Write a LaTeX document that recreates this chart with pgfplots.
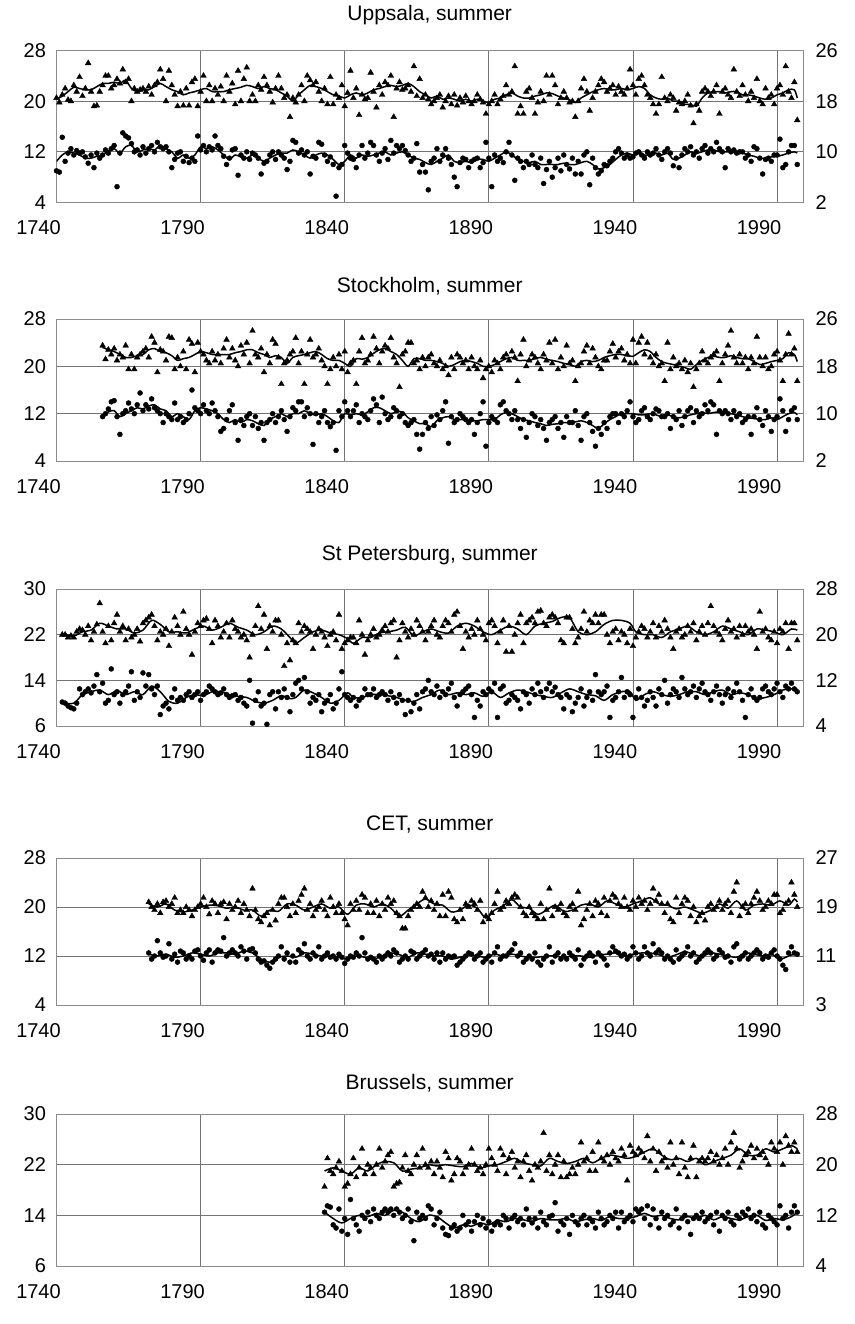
\documentclass[border=0pt]{standalone}
\usepackage{fontspec}
\setmainfont{Liberation Sans}
\usepackage{pgfplots}
\usepackage{pgfplotstable}
\pgfplotsset{compat=1.18}

\pgfplotsset{
  base/.style={anchor=north west, scale only axis, width=746.5pt,
    xmin=1740, xmax=1999,
    major tick length=0pt,
    ticklabel style={font=\fontsize{20}{22}\selectfont},
    /pgf/number format/assume math mode=true,
    /pgf/number format/1000 sep={}},
  panel/.style={base,
    xtick={1740,1790,1840,1890,1940,1990},
    xmajorgrids, ymajorgrids,
    grid style={black!55, line width=0.8pt},
    axis line style={black!45, line width=1pt},
    xticklabel style={yshift=-15pt, xshift=-18pt},
    yticklabel style={xshift=-7pt}},
  rightax/.style={base, axis x line=none, axis y line*=right,
    axis line style={draw=none},
    yticklabel style={xshift=9pt}},
  tri/.style={only marks, mark=triangle*, mark size=3.3pt, black},
  dot/.style={only marks, mark=*, mark size=2.5pt, black},
  sm/.style={smooth, black, line width=1.5pt, mark=none},
}
\newcommand{\ttl}{\fontsize{21}{24}\selectfont}

% ---------------- Uppsala ----------------
\pgfplotstableread{
yr a b
1740 20.5 9.0
1741 19.8 8.8
1742 21.0 14.3
1743 22.0 10.5
1744 20.2 11.8
1745 20.0 12.5
1746 22.5 11.5
1747 21.5 12.2
1748 23.8 11.8
1749 20.8 12.0
1750 22.0 11.2
1751 26.0 10.2
1752 21.5 11.5
1753 19.2 9.5
1754 19.3 11.8
1755 21.5 11.0
1756 22.5 11.5
1757 24.0 12.3
1758 24.0 11.8
1759 22.0 12.5
1760 22.5 13.0
1761 23.5 6.5
1762 22.8 11.8
1763 25.0 15.0
1764 23.0 14.5
1765 23.5 14.2
1766 20.0 13.3
1767 22.0 12.0
1768 21.5 12.3
1769 21.8 11.5
1770 22.0 12.8
1771 21.5 11.8
1772 22.3 12.5
1773 21.0 13.0
1774 22.5 12.0
1775 23.0 13.5
1776 25.0 12.8
1777 23.5 12.5
1778 20.0 12.8
1779 24.8 12.0
1780 22.5 9.5
1781 21.0 10.8
1782 19.2 11.8
1783 21.5 12.0
1784 19.3 10.5
1785 22.0 11.3
1786 19.3 10.3
1787 23.0 11.0
1788 23.5 10.5
1789 19.2 14.5
1790 21.5 12.3
1791 24.0 13.0
1792 20.0 12.0
1793 22.5 12.8
1794 20.0 12.3
1795 22.0 14.5
1796 21.0 13.0
1797 22.3 12.5
1798 20.0 11.3
1799 24.0 10.0
1800 21.5 11.0
1801 22.8 12.3
1802 19.5 12.5
1803 24.8 8.3
1804 20.0 11.5
1805 23.5 11.0
1806 25.3 12.0
1807 20.0 10.8
1808 21.0 11.8
1809 20.0 11.5
1810 22.5 11.0
1811 21.8 8.5
1812 23.8 10.2
1813 22.5 10.5
1814 21.5 11.5
1815 19.8 12.0
1816 22.0 10.8
1817 24.0 12.0
1818 22.0 11.5
1819 20.5 11.0
1820 21.0 9.2
1821 17.5 10.5
1822 20.5 13.8
1823 19.8 13.5
1824 21.0 11.8
1825 22.5 12.3
1826 20.0 11.5
1827 24.0 12.0
1828 23.3 8.5
1829 22.5 11.3
1830 23.0 11.0
1831 21.5 13.5
1832 20.0 13.2
1833 22.0 11.5
1834 19.5 10.5
1835 23.8 11.2
1836 19.5 10.0
1837 21.0 5.0
1838 20.5 9.5
1839 22.5 10.0
1840 19.2 13.0
1841 21.3 11.8
1842 24.8 11.0
1843 20.5 10.8
1844 22.0 9.5
1845 17.8 11.5
1846 21.0 13.0
1847 20.3 11.0
1848 20.5 11.8
1849 24.5 13.5
1850 21.5 13.0
1851 19.0 11.5
1852 22.5 10.5
1853 21.0 11.8
1854 23.0 12.5
1855 22.5 10.8
1856 24.0 13.8
1857 17.5 11.8
1858 22.0 13.0
1859 23.0 12.5
1860 21.8 13.0
1861 22.0 12.2
1862 22.5 11.5
1863 21.5 10.5
1864 25.5 11.0
1865 20.8 13.3
1866 23.5 8.8
1867 20.5 10.0
1868 21.0 8.8
1869 20.3 6.0
1870 19.5 10.5
1871 20.0 11.0
1872 20.5 12.5
1873 21.0 10.5
1874 19.0 11.5
1875 20.0 12.5
1876 20.8 11.0
1877 19.5 10.0
1878 21.0 8.0
1879 19.3 6.5
1880 20.5 10.3
1881 19.8 11.0
1882 20.8 10.8
1883 20.0 9.5
1884 19.5 10.5
1885 20.0 10.8
1886 21.0 11.0
1887 20.3 9.5
1888 19.8 10.3
1889 18.0 13.5
1890 19.5 11.0
1891 20.0 6.5
1892 21.0 11.5
1893 19.5 10.5
1894 20.3 11.0
1895 20.8 10.3
1896 22.5 12.0
1897 21.0 13.5
1898 21.5 11.5
1899 25.5 7.5
1900 18.0 11.0
1901 19.2 10.5
1902 18.0 9.5
1903 21.5 10.5
1904 22.0 10.0
1905 20.5 11.5
1906 18.0 10.0
1907 19.8 9.5
1908 21.5 11.0
1909 20.0 7.0
1910 24.0 9.2
1911 21.0 10.5
1912 24.0 8.0
1913 22.5 9.5
1914 19.5 11.0
1915 20.5 9.0
1916 21.5 11.5
1917 20.5 10.0
1918 19.8 9.3
1919 20.0 11.0
1920 17.5 8.5
1921 20.0 10.5
1922 22.0 8.5
1923 23.5 11.5
1924 21.5 12.0
1925 18.5 6.8
1926 20.5 11.0
1927 21.5 9.5
1928 22.5 8.5
1929 23.5 9.0
1930 23.0 10.0
1931 21.5 9.8
1932 22.0 10.5
1933 22.5 11.0
1934 21.0 12.0
1935 22.3 12.5
1936 21.5 11.8
1937 21.0 11.0
1938 22.0 11.5
1939 25.0 11.0
1940 22.5 11.2
1941 21.0 11.8
1942 23.5 12.0
1943 24.0 11.5
1944 22.5 11.0
1945 21.0 12.0
1946 20.5 11.5
1947 19.5 11.8
1948 18.0 12.5
1949 19.5 11.5
1950 23.8 10.8
1951 20.5 12.0
1952 20.0 12.5
1953 21.0 11.8
1954 20.5 9.8
1955 18.5 11.0
1956 19.8 9.5
1957 19.5 11.5
1958 20.0 12.5
1959 21.0 12.0
1960 19.3 12.8
1961 16.5 11.5
1962 19.5 12.0
1963 18.5 11.0
1964 21.5 12.5
1965 22.0 13.0
1966 21.5 11.8
1967 20.8 12.5
1968 21.5 12.0
1969 22.5 13.5
1970 18.0 12.5
1971 21.5 12.0
1972 22.0 9.5
1973 21.0 12.5
1974 20.5 12.0
1975 25.0 12.3
1976 21.5 11.8
1977 20.8 12.0
1978 22.5 12.0
1979 21.0 11.0
1980 20.0 11.5
1981 21.5 10.5
1982 20.5 12.8
1983 23.5 12.5
1984 20.0 11.0
1985 19.5 8.5
1986 22.0 10.8
1987 20.5 11.0
1988 21.0 10.5
1989 19.5 11.5
1990 22.0 11.5
1991 22.5 14.0
1992 21.0 9.5
1993 25.5 10.0
1994 21.5 12.0
1995 20.5 13.0
1996 23.0 13.0
1997 17.0 10.0
}\tUpp
\pgfplotstableread{
yr a b
1740 20.3 10.5
1742 20.8 11.5
1744 21.5 12.0
1746 22.2 11.8
1748 22.0 11.5
1750 21.8 11.0
1752 21.8 11.0
1754 22.3 11.3
1756 22.8 11.5
1758 22.8 12.2
1760 23.0 12.5
1762 22.8 11.8
1764 23.3 12.8
1766 22.0 13.0
1768 21.5 12.0
1770 21.8 12.3
1772 21.8 12.5
1774 22.3 12.3
1776 22.8 13.0
1778 22.3 12.5
1780 21.8 12.0
1782 21.5 11.0
1784 21.0 11.5
1786 21.3 11.0
1788 21.5 11.5
1790 21.8 12.8
1792 22.0 12.5
1794 21.5 12.8
1796 21.5 12.3
1798 21.5 11.5
1800 21.8 10.8
1802 22.0 11.5
1804 22.2 11.2
1806 22.5 11.0
1808 22.3 11.5
1810 22.0 11.0
1812 22.3 10.5
1814 22.0 11.0
1816 21.8 11.5
1818 21.3 11.8
1820 20.8 11.8
1822 20.0 12.3
1824 21.0 12.0
1826 21.8 11.5
1828 22.5 11.0
1830 22.3 11.5
1832 22.0 11.8
1834 21.5 11.5
1836 21.0 10.8
1838 20.8 10.0
1840 20.5 10.5
1842 21.0 11.5
1844 21.3 11.0
1846 21.0 11.5
1848 21.3 11.3
1850 21.8 11.5
1852 22.0 11.8
1854 22.3 12.0
1856 22.5 11.5
1858 22.3 11.8
1860 22.5 12.0
1862 22.8 11.5
1864 22.3 11.0
1866 21.5 10.8
1868 21.0 10.3
1870 20.5 10.0
1872 20.8 10.5
1874 20.3 11.0
1876 20.5 11.5
1878 20.3 10.5
1880 20.0 10.3
1882 20.3 10.5
1884 20.0 10.3
1886 20.3 10.8
1888 20.0 10.8
1890 19.8 10.5
1892 20.3 11.0
1894 20.5 11.5
1896 21.0 12.0
1898 21.3 11.5
1900 20.8 10.8
1902 20.5 10.5
1904 20.5 10.3
1906 20.8 10.5
1908 21.0 10.0
1910 21.3 10.0
1912 21.2 10.0
1914 20.8 10.0
1916 20.5 10.2
1918 20.2 10.0
1920 19.8 10.0
1922 20.5 10.3
1924 21.0 10.5
1926 21.5 10.0
1928 21.8 9.3
1930 22.0 9.5
1932 21.8 10.0
1934 21.8 10.8
1936 22.0 11.5
1938 21.8 11.8
1940 22.0 11.5
1942 22.3 11.8
1944 22.0 11.5
1946 21.0 11.5
1948 20.5 11.8
1950 20.3 11.5
1952 20.5 11.8
1954 20.0 10.8
1956 20.0 11.0
1958 19.5 11.5
1960 19.5 12.0
1962 19.2 11.8
1964 20.5 12.0
1966 21.3 12.3
1968 21.5 12.3
1970 21.5 12.0
1972 21.3 12.0
1974 21.5 12.0
1976 21.5 11.8
1978 21.0 11.8
1980 21.0 11.5
1982 20.8 11.3
1984 20.5 11.0
1986 20.3 11.0
1988 20.5 11.2
1990 21.0 11.3
1992 21.3 11.5
1994 21.8 11.8
1996 21.8 12.0
1997 20.5 11.8
}\sUpp

% ---------------- Stockholm ----------------
\pgfplotstableread{
yr a b
1756 23.5 11.5
1757 21.2 12.0
1758 22.8 12.8
1759 22.0 14.0
1760 23.0 14.2
1761 21.0 11.5
1762 22.0 8.5
1763 21.5 12.0
1764 23.5 12.5
1765 19.5 13.8
1766 22.0 12.8
1767 19.5 12.0
1768 21.5 13.5
1769 22.0 15.5
1770 22.5 12.5
1771 23.0 13.5
1772 21.5 12.8
1773 25.0 14.5
1774 24.0 13.0
1775 19.0 12.5
1776 22.8 12.0
1777 22.5 10.5
1778 21.0 12.0
1779 25.0 11.5
1780 24.8 11.0
1781 19.5 13.8
1782 21.5 11.0
1783 20.0 11.5
1784 22.5 10.5
1785 19.5 11.0
1786 24.5 12.0
1787 23.8 16.0
1788 19.0 13.0
1789 24.0 12.5
1790 22.5 12.0
1791 22.0 13.5
1792 21.0 12.5
1793 20.5 12.0
1794 22.5 13.8
1795 21.0 12.5
1796 22.0 11.5
1797 20.5 9.0
1798 23.0 9.5
1799 24.5 11.0
1800 21.5 12.5
1801 23.0 13.5
1802 21.0 10.5
1803 20.0 7.5
1804 23.5 11.0
1805 22.0 10.0
1806 24.0 11.5
1807 20.5 12.0
1808 26.0 10.0
1809 22.0 11.5
1810 21.5 9.5
1811 23.0 10.5
1812 19.0 7.5
1813 22.0 10.5
1814 20.5 11.0
1815 24.5 12.0
1816 23.8 10.5
1817 21.5 11.5
1818 17.0 12.5
1819 20.5 11.0
1820 21.0 9.0
1821 22.0 11.5
1822 22.5 13.0
1823 24.8 12.5
1824 20.5 14.0
1825 22.5 14.0
1826 17.0 11.5
1827 22.0 13.0
1828 24.5 12.0
1829 21.5 6.8
1830 22.0 12.0
1831 23.0 10.5
1832 21.0 11.5
1833 20.0 12.5
1834 17.0 10.5
1835 19.5 9.8
1836 21.5 10.5
1837 20.0 5.8
1838 22.0 12.5
1839 19.5 11.5
1840 22.5 14.0
1841 19.0 12.5
1842 20.5 11.5
1843 21.0 12.5
1844 17.0 13.5
1845 22.5 10.5
1846 24.8 12.0
1847 20.5 11.5
1848 21.0 11.0
1849 22.0 12.5
1850 25.0 14.5
1851 23.0 13.5
1852 20.5 10.5
1853 22.5 14.8
1854 23.5 12.0
1855 23.0 11.0
1856 24.8 11.5
1857 21.5 13.0
1858 20.5 12.5
1859 16.5 11.5
1860 22.0 12.0
1861 22.5 10.5
1862 24.0 10.0
1863 24.0 10.5
1864 20.5 11.0
1865 21.0 8.5
1866 19.5 6.0
1867 21.5 8.5
1868 20.0 10.5
1869 21.5 9.5
1870 22.0 11.5
1871 20.5 10.0
1872 20.0 11.8
1873 21.0 11.0
1874 19.5 12.5
1875 20.0 14.0
1876 18.5 7.0
1877 21.5 11.5
1878 19.5 10.5
1879 22.0 11.0
1880 21.5 12.0
1881 20.5 11.5
1882 21.0 11.0
1883 19.5 10.5
1884 21.5 11.0
1885 20.0 8.5
1886 19.5 10.5
1887 21.0 12.0
1888 18.0 14.0
1889 19.5 6.5
1890 20.0 10.5
1891 19.0 11.5
1892 21.0 11.0
1893 20.5 10.5
1894 19.5 13.5
1895 21.5 14.0
1896 22.0 12.5
1897 21.0 12.0
1898 22.5 11.0
1899 21.5 12.5
1900 17.5 11.0
1901 22.0 9.5
1902 24.5 11.0
1903 20.0 8.0
1904 21.0 10.5
1905 22.0 12.0
1906 21.5 11.5
1907 20.5 10.0
1908 19.5 11.0
1909 22.0 9.5
1910 21.0 7.5
1911 24.0 10.5
1912 20.5 11.0
1913 24.5 11.5
1914 19.5 9.5
1915 21.5 10.5
1916 20.0 8.0
1917 23.5 11.5
1918 20.5 10.5
1919 21.0 10.5
1920 17.5 12.5
1921 20.0 10.0
1922 20.5 7.5
1923 22.5 11.5
1924 23.5 12.0
1925 20.5 10.5
1926 23.0 9.0
1927 21.5 6.5
1928 20.0 9.5
1929 19.5 8.5
1930 21.0 10.5
1931 21.0 9.5
1932 22.5 11.5
1933 23.8 12.0
1934 21.5 12.0
1935 22.5 10.5
1936 23.0 12.0
1937 21.0 11.5
1938 22.0 12.5
1939 20.5 14.0
1940 24.5 11.5
1941 20.5 10.5
1942 24.0 11.0
1943 25.0 12.5
1944 22.0 13.0
1945 24.0 11.5
1946 21.5 11.0
1947 20.5 12.0
1948 22.0 12.8
1949 20.0 12.5
1950 20.5 11.5
1951 17.5 11.5
1952 24.0 12.0
1953 19.5 9.5
1954 21.5 11.5
1955 20.0 11.0
1956 20.5 12.5
1957 19.5 10.0
1958 21.0 11.5
1959 19.0 12.5
1960 20.5 13.0
1961 16.5 10.5
1962 19.5 12.5
1963 20.5 11.5
1964 22.5 12.0
1965 21.0 13.5
1966 20.5 12.5
1967 21.5 14.0
1968 22.0 13.5
1969 22.5 8.5
1970 17.5 12.5
1971 20.5 12.0
1972 22.0 12.5
1973 23.5 12.0
1974 26.0 11.0
1975 21.5 12.5
1976 20.5 11.5
1977 22.0 12.0
1978 20.5 10.5
1979 21.5 11.0
1980 19.5 11.5
1981 21.5 8.5
1982 20.5 11.5
1983 25.0 13.0
1984 21.5 11.0
1985 20.0 10.0
1986 21.5 12.5
1987 19.5 11.5
1988 20.0 9.0
1989 22.0 11.0
1990 22.5 11.5
1991 21.0 14.5
1992 17.5 12.5
1993 22.0 9.0
1994 25.5 11.0
1995 22.0 12.5
1996 23.0 13.0
1997 17.5 11.0
}\tSto
\pgfplotstableread{
yr a b
1756 23.2 11.5
1758 22.8 12.3
1760 22.5 12.5
1762 22.0 11.5
1764 21.5 12.0
1766 21.5 12.5
1768 21.8 13.0
1770 22.0 12.8
1772 22.8 13.3
1774 23.0 13.5
1776 22.5 12.8
1778 22.3 12.5
1780 21.8 11.5
1782 21.0 12.0
1784 21.3 11.5
1786 21.5 11.0
1788 22.0 12.5
1790 22.5 13.0
1792 22.3 12.8
1794 22.0 12.5
1796 22.0 12.0
1798 22.0 11.0
1800 22.0 10.5
1802 22.3 11.0
1804 22.5 10.5
1806 22.8 11.0
1808 22.8 10.8
1810 22.3 10.3
1812 22.0 10.0
1814 21.5 11.0
1816 21.8 11.5
1818 21.5 12.0
1820 20.5 11.5
1822 21.5 12.0
1824 21.8 12.0
1826 22.0 12.5
1828 22.3 12.0
1830 22.5 11.8
1832 22.0 12.0
1834 21.3 11.5
1836 21.0 10.8
1838 21.0 10.5
1840 20.5 12.0
1842 20.0 11.8
1844 21.3 12.0
1846 21.2 11.8
1848 21.5 12.3
1850 22.2 13.0
1852 22.8 13.0
1854 23.0 12.5
1856 22.5 12.0
1858 22.0 12.3
1860 21.0 12.3
1862 20.0 11.3
1864 21.3 10.8
1866 21.3 10.3
1868 21.0 10.3
1870 21.0 9.8
1872 20.8 10.8
1874 20.5 11.3
1876 20.0 11.5
1878 20.3 11.0
1880 20.8 11.0
1882 21.0 11.0
1884 20.8 10.8
1886 20.5 10.8
1888 20.0 11.0
1890 20.0 11.0
1892 20.3 11.0
1894 20.8 11.8
1896 21.3 12.2
1898 21.5 12.0
1900 21.0 11.5
1902 21.0 11.0
1904 21.0 10.8
1906 21.3 10.5
1908 21.5 10.3
1910 21.2 10.0
1912 21.0 10.2
1914 20.8 10.3
1916 20.5 10.5
1918 20.3 10.5
1920 20.0 10.6
1922 20.8 10.8
1924 21.0 10.5
1926 20.8 10.0
1928 21.0 9.5
1930 21.5 10.3
1932 21.8 11.0
1934 22.0 11.5
1936 22.0 12.0
1938 21.8 12.0
1940 21.7 12.0
1942 22.3 11.8
1944 22.8 11.8
1946 22.5 12.0
1948 21.5 11.8
1950 20.8 11.5
1952 20.5 11.8
1954 20.3 11.5
1956 20.0 11.3
1958 19.8 11.5
1960 19.5 11.8
1962 20.3 12.0
1964 21.0 12.2
1966 21.5 12.0
1968 21.7 12.2
1970 21.5 12.3
1972 21.5 12.2
1974 21.8 12.0
1976 21.5 11.8
1978 21.3 11.5
1980 21.3 11.3
1982 20.8 11.2
1984 20.3 11.0
1986 20.5 11.0
1988 20.8 11.3
1990 21.0 11.0
1992 21.3 11.5
1994 22.3 12.0
1996 22.0 12.2
1997 20.8 11.8
}\sSto

% ---------------- St Petersburg ----------------
\pgfplotstableread{
yr a b
1742 22.0 10.2
1743 22.0 10.0
1744 21.5 9.5
1745 21.8 9.2
1746 21.5 9.0
1747 22.5 10.0
1748 23.0 12.5
1749 22.8 11.5
1750 22.0 12.0
1751 23.5 12.5
1752 21.0 11.8
1753 22.5 13.0
1754 23.8 15.0
1755 27.5 12.0
1756 22.5 13.5
1757 20.5 10.0
1758 23.5 10.5
1759 21.0 16.0
1760 24.0 11.5
1761 25.5 12.0
1762 22.5 10.0
1763 23.5 11.5
1764 21.0 12.0
1765 23.0 13.0
1766 21.5 15.5
1767 22.0 10.5
1768 23.0 12.0
1769 20.8 11.0
1770 24.0 15.3
1771 24.5 13.0
1772 25.0 15.0
1773 25.5 12.5
1774 23.5 11.5
1775 21.0 13.0
1776 22.5 8.0
1777 22.0 9.5
1778 23.0 10.0
1779 20.0 9.0
1780 22.5 11.0
1781 25.0 12.5
1782 23.5 10.5
1783 22.0 11.0
1784 26.0 10.5
1785 23.0 11.5
1786 22.0 12.0
1787 18.5 11.0
1788 22.5 11.5
1789 24.0 12.0
1790 23.5 10.5
1791 24.5 11.5
1792 24.8 12.0
1793 23.0 13.0
1794 20.5 12.5
1795 24.5 12.0
1796 23.5 11.5
1797 21.5 11.8
1798 22.5 12.5
1799 24.0 11.5
1800 21.5 11.0
1801 24.5 11.3
1802 23.0 11.5
1803 22.5 10.5
1804 21.5 11.0
1805 22.0 10.0
1806 21.0 9.5
1807 18.0 14.0
1808 22.0 6.5
1809 23.5 10.5
1810 27.0 12.0
1811 23.0 9.5
1812 25.5 10.0
1813 19.5 6.3
1814 23.5 11.5
1815 22.5 12.0
1816 24.5 9.0
1817 24.5 12.0
1818 22.0 11.0
1819 16.5 12.5
1820 20.5 11.0
1821 17.5 8.5
1822 21.0 11.5
1823 20.5 13.5
1824 24.0 14.0
1825 22.5 12.5
1826 23.5 14.5
1827 23.0 12.0
1828 22.5 10.0
1829 19.5 11.0
1830 22.0 10.5
1831 23.0 11.5
1832 22.5 8.5
1833 21.5 10.0
1834 20.0 10.5
1835 22.0 11.5
1836 22.5 9.0
1837 21.0 10.0
1838 25.5 12.5
1839 19.5 15.5
1840 20.5 11.5
1841 21.0 11.0
1842 21.5 10.5
1843 21.5 11.0
1844 20.5 9.5
1845 24.5 10.5
1846 22.0 11.0
1847 18.5 12.5
1848 21.0 11.5
1849 22.0 11.5
1850 23.0 12.5
1851 21.5 11.0
1852 22.0 11.5
1853 22.8 12.0
1854 23.5 11.5
1855 22.5 10.5
1856 24.0 12.0
1857 24.5 11.0
1858 18.0 10.0
1859 21.0 11.5
1860 24.0 10.5
1861 22.5 8.0
1862 21.5 10.5
1863 23.0 8.5
1864 22.0 10.0
1865 24.5 11.5
1866 23.5 9.0
1867 22.5 12.0
1868 21.0 12.5
1869 22.5 14.0
1870 23.5 12.0
1871 24.5 11.5
1872 22.0 13.0
1873 21.5 11.0
1874 23.5 12.0
1875 24.5 11.5
1876 24.0 12.5
1877 22.5 13.5
1878 25.5 11.0
1879 26.0 9.5
1880 23.5 11.5
1881 19.5 12.0
1882 22.5 12.5
1883 21.5 13.0
1884 23.0 11.5
1885 22.0 7.5
1886 24.5 10.5
1887 23.0 9.5
1888 22.0 12.0
1889 21.0 11.5
1890 24.0 12.5
1891 24.5 12.0
1892 23.5 13.5
1893 20.5 7.5
1894 22.5 12.5
1895 24.5 13.0
1896 19.0 10.0
1897 23.5 10.5
1898 19.0 11.5
1899 22.0 11.0
1900 24.0 10.5
1901 25.5 9.0
1902 20.5 12.0
1903 24.0 11.5
1904 24.5 10.0
1905 25.0 12.5
1906 24.0 11.5
1907 26.0 13.5
1908 26.2 12.0
1909 24.0 11.0
1910 23.5 12.5
1911 25.0 13.5
1912 25.5 12.0
1913 25.0 12.8
1914 24.0 11.5
1915 21.0 11.0
1916 20.5 9.0
1917 25.0 11.5
1918 25.0 11.0
1919 23.0 8.5
1920 20.5 10.0
1921 21.5 11.0
1922 23.0 12.5
1923 26.0 9.5
1924 22.5 11.0
1925 24.5 12.0
1926 24.0 10.5
1927 25.5 15.0
1928 24.0 12.0
1929 25.5 11.5
1930 25.5 12.0
1931 22.0 13.0
1932 20.5 7.5
1933 22.5 10.5
1934 23.0 11.0
1935 21.0 12.0
1936 22.5 14.5
1937 22.0 11.0
1938 20.5 12.0
1939 23.0 11.5
1940 20.0 7.5
1941 21.5 11.0
1942 22.5 12.5
1943 23.5 11.0
1944 23.0 9.5
1945 21.5 10.5
1946 22.5 12.0
1947 24.0 11.0
1948 21.5 9.5
1949 23.5 12.5
1950 22.5 11.5
1951 24.5 14.0
1952 23.0 10.0
1953 21.5 11.5
1954 19.5 12.5
1955 22.5 12.0
1956 23.0 11.0
1957 21.5 14.5
1958 22.0 12.5
1959 23.5 11.5
1960 22.5 12.0
1961 24.0 13.0
1962 21.0 11.0
1963 22.5 12.5
1964 23.5 13.5
1965 22.0 12.0
1966 24.0 11.5
1967 27.0 10.5
1968 23.5 12.0
1969 22.5 13.0
1970 22.0 11.5
1971 21.0 10.0
1972 23.0 11.5
1973 24.5 12.5
1974 22.5 11.0
1975 23.0 12.0
1976 21.5 13.5
1977 23.5 12.0
1978 22.0 10.5
1979 23.5 7.5
1980 22.5 11.5
1981 23.0 12.5
1982 22.0 11.0
1983 19.5 10.5
1984 26.0 11.0
1985 22.5 12.5
1986 23.0 13.0
1987 21.5 12.0
1988 21.0 11.5
1989 22.5 12.5
1990 20.5 13.5
1991 23.0 12.0
1992 22.5 11.0
1993 24.0 13.0
1994 19.5 12.5
1995 24.0 13.5
1996 24.0 12.5
1997 21.0 12.0
}\tStp
\pgfplotstableread{
yr a b
1742 22.0 10.0
1746 21.8 10.0
1749 22.5 11.5
1752 22.8 12.0
1755 24.0 12.3
1758 23.5 11.5
1761 23.0 12.2
1764 23.0 11.5
1767 22.3 12.0
1770 22.8 11.5
1773 24.5 13.0
1776 23.8 12.0
1779 22.5 10.3
1782 22.5 10.0
1785 22.3 11.0
1788 23.0 11.5
1791 23.5 11.3
1794 22.8 12.0
1797 23.3 12.0
1800 24.0 11.5
1803 23.3 11.2
1806 22.8 11.0
1809 22.0 10.3
1812 22.5 10.0
1815 23.5 10.5
1818 23.0 11.3
1821 21.5 10.8
1823 20.5 11.0
1826 21.5 12.3
1829 22.5 11.8
1832 22.8 11.0
1835 22.3 10.0
1838 22.0 10.5
1841 21.3 11.8
1843 20.5 11.0
1846 21.5 11.0
1849 21.5 11.5
1852 22.3 11.5
1855 22.5 11.3
1858 22.8 11.0
1861 23.3 10.5
1864 21.8 10.3
1867 22.5 11.0
1870 23.0 11.5
1873 22.5 12.3
1876 22.3 11.5
1879 23.5 11.8
1882 24.0 11.5
1885 23.5 11.8
1888 22.5 11.2
1891 22.0 12.0
1894 22.8 11.0
1897 23.5 11.8
1900 23.0 12.3
1903 22.0 12.0
1906 23.5 11.5
1909 24.0 11.2
1912 24.3 11.0
1915 25.0 11.8
1918 25.0 12.5
1921 22.5 12.0
1924 22.0 11.5
1927 22.5 11.3
1930 23.8 10.5
1933 24.5 11.5
1936 24.5 12.0
1939 24.0 12.0
1941 22.5 10.5
1944 22.0 11.5
1947 22.0 12.0
1950 21.5 11.5
1953 22.5 11.2
1956 23.0 11.5
1959 23.5 12.0
1962 22.5 12.0
1965 22.0 11.5
1968 22.5 12.0
1971 23.5 12.3
1974 23.0 11.5
1977 22.5 11.8
1980 22.0 11.5
1983 23.0 10.8
1986 22.8 11.0
1989 22.5 11.5
1992 22.0 12.3
1995 23.0 12.5
1997 22.8 12.5
}\sStp

% ---------------- CET ----------------
\pgfplotstableread{
yr a b
1772 20.8 12.5
1773 20.0 11.5
1774 19.5 12.0
1775 20.5 14.5
1776 19.0 12.5
1777 20.8 11.8
1778 21.0 12.0
1779 20.0 14.0
1780 20.5 11.5
1781 21.5 12.3
1782 19.0 11.0
1783 19.5 12.8
1784 19.0 12.5
1785 20.0 11.5
1786 19.5 12.0
1787 18.5 11.5
1788 19.5 12.8
1789 20.0 13.0
1790 20.5 12.0
1791 21.5 11.3
1792 20.0 12.5
1793 18.8 13.0
1794 21.0 11.0
1795 20.5 12.5
1796 19.0 13.0
1797 20.5 12.8
1798 20.8 15.0
1799 18.0 12.0
1800 20.5 12.5
1801 19.5 13.0
1802 20.0 12.5
1803 21.0 12.0
1804 19.0 13.5
1805 20.5 12.8
1806 19.5 11.5
1807 18.5 13.0
1808 23.0 13.2
1809 19.5 12.5
1810 18.0 11.5
1811 17.5 11.0
1812 18.5 11.2
1813 19.0 10.5
1814 17.0 10.0
1815 19.5 11.0
1816 17.8 11.5
1817 20.5 12.0
1818 21.5 13.5
1819 21.5 11.5
1820 20.0 12.5
1821 18.5 11.0
1822 20.5 12.0
1823 19.0 11.0
1824 21.0 13.0
1825 22.0 12.5
1826 23.0 14.0
1827 19.5 12.0
1828 20.5 11.5
1829 18.5 12.5
1830 19.5 12.0
1831 20.0 13.5
1832 21.0 11.5
1833 19.5 12.0
1834 18.5 12.5
1835 21.5 11.8
1836 20.0 12.0
1837 19.0 11.5
1838 20.5 12.3
1839 19.0 11.8
1840 18.0 10.8
1841 17.0 11.5
1842 20.5 12.0
1843 19.5 11.8
1844 21.0 12.5
1845 19.5 12.0
1846 22.0 15.0
1847 21.5 12.5
1848 19.0 11.5
1849 20.5 11.8
1850 19.0 11.5
1851 21.0 11.0
1852 18.5 12.0
1853 20.5 11.5
1854 19.5 12.0
1855 21.5 12.5
1856 20.5 12.0
1857 21.0 13.0
1858 19.0 12.5
1859 18.5 11.0
1860 16.5 11.5
1861 16.5 12.0
1862 18.5 11.5
1863 19.5 12.8
1864 20.0 12.5
1865 20.5 11.5
1866 20.0 12.0
1867 22.5 12.5
1868 21.5 13.0
1869 20.0 12.0
1870 21.0 12.3
1871 19.5 11.5
1872 20.5 12.5
1873 18.5 11.0
1874 22.0 12.5
1875 18.5 11.5
1876 22.5 12.0
1877 21.5 11.8
1878 18.0 12.0
1879 17.5 10.5
1880 19.5 11.0
1881 18.0 11.5
1882 20.5 12.0
1883 20.0 12.5
1884 21.0 12.3
1885 20.5 11.5
1886 19.5 12.0
1887 21.0 12.5
1888 17.5 11.0
1889 18.5 11.5
1890 18.0 12.0
1891 19.0 11.0
1892 20.5 12.5
1893 22.5 13.5
1894 19.5 11.5
1895 20.0 12.0
1896 21.0 12.0
1897 20.5 12.5
1898 21.5 13.0
1899 22.0 14.0
1900 21.5 12.0
1901 20.0 12.5
1902 19.0 11.0
1903 18.5 11.5
1904 20.0 12.0
1905 19.0 11.5
1906 18.5 12.5
1907 18.0 11.0
1908 20.5 10.5
1909 18.0 11.5
1910 19.5 12.0
1911 23.0 13.5
1912 18.5 11.0
1913 20.0 12.0
1914 19.5 12.5
1915 20.5 11.5
1916 19.0 12.0
1917 18.5 11.5
1918 20.0 12.5
1919 20.5 12.0
1920 19.5 11.5
1921 22.5 13.0
1922 17.0 10.5
1923 18.0 11.5
1924 19.5 12.0
1925 20.5 12.5
1926 18.5 12.0
1927 21.0 11.0
1928 20.5 12.5
1929 19.0 12.0
1930 21.5 11.5
1931 18.5 10.5
1932 21.0 12.5
1933 22.0 13.5
1934 21.5 12.8
1935 20.5 12.5
1936 20.0 12.0
1937 21.5 12.3
1938 20.0 11.5
1939 19.5 12.0
1940 21.0 13.5
1941 20.0 12.5
1942 21.5 11.5
1943 20.5 12.0
1944 21.0 13.5
1945 19.5 12.5
1946 20.5 12.0
1947 23.0 14.0
1948 21.0 12.5
1949 22.0 13.0
1950 20.5 12.5
1951 19.0 11.5
1952 20.5 12.0
1953 18.0 11.5
1954 17.5 11.0
1955 21.5 13.0
1956 19.0 11.5
1957 20.5 12.0
1958 21.5 12.5
1959 21.0 13.5
1960 18.5 12.0
1961 20.0 12.5
1962 17.5 11.0
1963 18.5 11.5
1964 19.0 12.0
1965 17.8 12.5
1966 20.0 13.0
1967 20.5 12.5
1968 19.5 11.5
1969 20.0 12.0
1970 21.0 13.0
1971 19.5 12.5
1972 20.5 11.8
1973 21.0 12.0
1974 19.0 11.0
1975 22.5 13.5
1976 24.0 14.0
1977 18.5 11.5
1978 20.0 12.0
1979 20.5 12.5
1980 19.0 11.5
1981 20.5 12.0
1982 21.5 12.5
1983 22.5 13.0
1984 21.0 12.5
1985 19.5 11.5
1986 20.0 12.0
1987 21.0 11.8
1988 20.5 12.5
1989 22.0 13.0
1990 22.0 12.0
1991 19.0 11.5
1992 19.5 10.5
1993 20.5 9.8
1994 21.0 12.5
1995 24.0 13.5
1996 22.0 12.5
1997 20.0 12.3
}\tCet
\pgfplotstableread{
yr a b
1772 20.5 12.3
1775 20.0 12.0
1778 20.5 12.3
1781 19.5 11.8
1784 19.2 12.0
1787 19.5 12.5
1790 20.0 12.3
1793 20.3 12.0
1796 20.2 12.5
1799 19.8 12.5
1802 20.0 12.3
1805 19.5 12.8
1808 19.5 12.5
1811 18.5 11.5
1814 19.5 11.0
1817 19.3 11.8
1820 20.5 12.0
1823 20.3 11.8
1826 19.5 12.5
1829 20.0 12.3
1832 20.5 12.0
1835 19.8 12.0
1838 20.0 11.8
1841 18.8 11.5
1844 20.3 12.0
1847 20.5 11.8
1850 20.0 11.5
1853 20.5 12.0
1856 19.8 12.5
1859 18.5 12.2
1862 19.5 11.8
1865 20.5 12.5
1868 21.3 12.3
1871 20.5 12.0
1874 20.3 12.0
1877 19.2 11.5
1880 19.5 11.8
1883 20.3 12.2
1886 19.8 12.0
1889 18.2 11.8
1892 19.5 12.3
1895 20.2 12.0
1898 21.2 12.3
1901 20.0 12.0
1904 19.8 11.8
1907 18.8 11.8
1910 19.5 12.0
1913 20.3 12.0
1916 19.3 11.8
1919 19.5 12.0
1922 20.3 12.0
1925 20.5 11.8
1928 20.0 12.2
1931 21.0 12.3
1934 20.5 12.5
1937 20.0 12.0
1940 20.5 12.3
1943 21.0 12.5
1946 21.5 12.5
1949 20.5 12.2
1952 20.3 11.8
1955 19.7 12.2
1958 20.0 12.7
1961 19.5 12.3
1964 19.0 12.0
1967 19.5 12.5
1970 20.5 12.3
1973 19.8 12.0
1976 21.0 11.8
1979 19.5 12.5
1982 20.3 12.3
1985 20.5 12.0
1988 20.3 12.3
1991 21.0 11.5
1994 20.3 12.0
1996 21.3 12.3
1997 20.8 12.3
}\sCet

% ---------------- Brussels ----------------
\pgfplotstableread{
yr a b
1833 18.5 14.5
1834 23.0 15.5
1835 21.0 15.3
1836 20.5 12.5
1837 21.5 12.0
1838 22.5 15.0
1839 21.0 11.5
1840 18.5 13.5
1841 19.0 11.0
1842 20.5 16.5
1843 23.0 13.5
1844 20.0 12.5
1845 21.5 11.5
1846 24.5 14.0
1847 20.5 13.5
1848 22.0 14.5
1849 21.5 13.0
1850 20.5 15.0
1851 22.0 14.0
1852 24.5 13.5
1853 21.5 14.5
1854 22.5 15.0
1855 23.5 14.5
1856 24.0 15.0
1857 18.5 14.0
1858 19.0 15.0
1859 19.2 14.5
1860 21.5 13.5
1861 23.5 14.0
1862 21.0 15.0
1863 20.5 13.0
1864 22.0 10.0
1865 23.5 14.5
1866 21.5 13.5
1867 24.5 14.0
1868 22.0 13.5
1869 21.5 15.5
1870 22.5 15.0
1871 20.5 12.5
1872 22.5 13.5
1873 21.5 14.5
1874 20.0 12.0
1875 24.0 11.0
1876 23.0 10.8
1877 19.5 12.0
1878 20.5 12.5
1879 23.0 11.5
1880 22.5 12.0
1881 20.5 14.0
1882 21.5 12.5
1883 22.0 13.0
1884 24.5 11.5
1885 22.0 13.0
1886 21.0 14.0
1887 21.5 12.5
1888 20.5 13.5
1889 22.0 12.0
1890 24.5 13.0
1891 23.0 11.5
1892 22.0 12.5
1893 21.0 13.0
1894 24.5 12.5
1895 23.5 14.0
1896 20.5 13.5
1897 23.0 12.0
1898 24.0 13.5
1899 21.5 14.0
1900 22.5 13.0
1901 20.0 13.5
1902 22.5 12.5
1903 23.5 15.0
1904 21.0 13.5
1905 19.5 12.8
1906 22.0 13.5
1907 21.5 12.0
1908 22.5 14.5
1909 27.0 13.0
1910 21.0 12.5
1911 23.5 13.8
1912 20.5 14.0
1913 22.0 16.0
1914 23.5 11.5
1915 20.0 13.0
1916 22.5 12.5
1917 20.0 13.5
1918 20.5 11.0
1919 21.5 14.0
1920 20.5 13.0
1921 22.0 12.5
1922 25.5 13.5
1923 22.5 14.0
1924 23.0 12.5
1925 21.0 13.5
1926 24.0 13.0
1927 21.0 12.0
1928 25.5 14.5
1929 23.0 13.5
1930 22.5 12.5
1931 23.5 13.0
1932 22.0 14.0
1933 24.0 13.5
1934 23.0 14.5
1935 22.5 12.0
1936 24.5 14.5
1937 23.5 13.0
1938 19.5 13.5
1939 25.0 14.0
1940 24.0 13.0
1941 23.5 15.0
1942 24.5 14.5
1943 24.0 15.0
1944 23.0 13.5
1945 26.5 15.5
1946 22.5 12.5
1947 24.5 15.0
1948 21.0 13.5
1949 24.0 12.0
1950 22.5 14.5
1951 23.0 13.5
1952 21.5 14.0
1953 25.5 12.5
1954 22.0 13.0
1955 23.0 15.0
1956 20.5 12.0
1957 25.5 13.5
1958 21.5 14.0
1959 20.0 13.0
1960 23.0 11.0
1961 25.0 13.5
1962 20.0 14.0
1963 22.5 13.5
1964 23.0 14.5
1965 22.5 13.0
1966 23.0 13.5
1967 24.0 14.0
1968 22.5 12.5
1969 23.5 14.5
1970 22.0 11.5
1971 23.0 14.0
1972 24.5 13.5
1973 22.0 14.5
1974 25.5 13.0
1975 27.0 12.5
1976 24.5 14.0
1977 21.5 13.5
1978 22.5 14.5
1979 23.5 14.0
1980 24.0 15.0
1981 25.0 13.5
1982 23.0 14.0
1983 24.5 13.0
1984 23.5 14.5
1985 24.0 12.5
1986 23.0 12.0
1987 22.0 14.0
1988 25.5 13.5
1989 24.5 13.0
1990 24.0 12.5
1991 25.5 15.5
1992 22.0 13.5
1993 26.5 14.0
1994 25.0 12.0
1995 24.0 14.5
1996 25.5 15.5
1997 24.0 14.5
}\tBru
\pgfplotstableread{
yr a b
1833 21.0 14.5
1836 21.5 13.5
1839 21.0 12.8
1842 20.5 13.5
1845 21.5 14.0
1848 21.0 13.8
1851 22.0 14.3
1854 22.5 14.0
1857 22.3 14.8
1860 21.0 14.5
1863 21.3 13.5
1866 21.5 13.0
1869 22.0 14.0
1872 21.8 13.8
1875 22.0 12.8
1878 21.8 12.0
1881 21.7 12.5
1884 22.2 12.3
1887 21.5 12.8
1890 21.8 12.5
1893 22.0 13.2
1896 22.5 13.0
1899 23.0 13.5
1902 22.3 13.3
1905 22.0 13.0
1908 21.8 13.5
1911 23.0 13.3
1914 22.5 13.3
1917 22.2 13.5
1920 22.5 13.0
1923 23.0 13.3
1926 22.3 13.5
1929 23.0 13.2
1932 23.5 13.8
1935 23.3 13.5
1938 23.0 13.5
1941 23.3 13.8
1944 24.0 14.3
1947 24.5 13.8
1950 23.5 14.0
1953 22.8 13.5
1956 23.0 13.3
1959 22.5 13.8
1962 23.0 13.5
1965 22.0 14.0
1968 22.5 13.3
1971 23.0 13.8
1974 23.5 13.5
1977 24.5 13.3
1980 23.5 13.8
1983 23.5 14.0
1986 24.5 13.2
1989 24.0 13.5
1992 24.5 13.3
1995 25.0 13.8
1997 24.5 14.5
}\sBru

\begin{document}
\begin{tikzpicture}
\useasboundingbox (0,0) rectangle (854pt,-1324pt);

% Uppsala
\node[font=\ttl] at (429.75pt,-15pt) {Uppsala, summer};
\begin{axis}[panel, at={(56.5pt,-50.5pt)}, height=152pt, ymin=4, ymax=28, ytick={4,12,20,28}]
\addplot[tri] table[x=yr,y=a] {\tUpp};
\addplot[dot] table[x=yr,y=b] {\tUpp};
\addplot[sm] table[x=yr,y=a] {\sUpp};
\addplot[sm] table[x=yr,y=b] {\sUpp};
\end{axis}
\begin{axis}[rightax, at={(56.5pt,-50.5pt)}, height=152pt, ymin=2, ymax=26, ytick={2,10,18,26}]
\addplot[draw=none] coordinates {(1800,10)};
\end{axis}

% Stockholm
\node[font=\ttl] at (429.75pt,-286pt) {Stockholm, summer};
\begin{axis}[panel, at={(56.5pt,-319pt)}, height=142pt, ymin=4, ymax=28, ytick={4,12,20,28}]
\addplot[tri] table[x=yr,y=a] {\tSto};
\addplot[dot] table[x=yr,y=b] {\tSto};
\addplot[sm] table[x=yr,y=a] {\sSto};
\addplot[sm] table[x=yr,y=b] {\sSto};
\end{axis}
\begin{axis}[rightax, at={(56.5pt,-319pt)}, height=142pt, ymin=2, ymax=26, ytick={2,10,18,26}]
\addplot[draw=none] coordinates {(1800,10)};
\end{axis}

% St Petersburg
\node[font=\ttl] at (429.75pt,-555pt) {St Petersburg, summer};
\begin{axis}[panel, at={(56.5pt,-589pt)}, height=137pt, ymin=6, ymax=30, ytick={6,14,22,30}]
\addplot[tri] table[x=yr,y=a] {\tStp};
\addplot[dot] table[x=yr,y=b] {\tStp};
\addplot[sm] table[x=yr,y=a] {\sStp};
\addplot[sm] table[x=yr,y=b] {\sStp};
\end{axis}
\begin{axis}[rightax, at={(56.5pt,-589pt)}, height=137pt, ymin=4, ymax=28, ytick={4,12,20,28}]
\addplot[draw=none] coordinates {(1800,10)};
\end{axis}

% CET
\node[font=\ttl] at (429.75pt,-825pt) {CET, summer};
\begin{axis}[panel, at={(56.5pt,-858pt)}, height=147pt, ymin=4, ymax=28, ytick={4,12,20,28}]
\addplot[tri] table[x=yr,y=a] {\tCet};
\addplot[dot] table[x=yr,y=b] {\tCet};
\addplot[sm] table[x=yr,y=a] {\sCet};
\addplot[sm] table[x=yr,y=b] {\sCet};
\end{axis}
\begin{axis}[rightax, at={(56.5pt,-858pt)}, height=147pt, ymin=3, ymax=27, ytick={3,11,19,27}]
\addplot[draw=none] coordinates {(1800,10)};
\end{axis}

% Brussels
\node[font=\ttl] at (429.75pt,-1083pt) {Brussels, summer};
\begin{axis}[panel, at={(56.5pt,-1114pt)}, height=152pt, ymin=6, ymax=30, ytick={6,14,22,30}]
\addplot[tri] table[x=yr,y=a] {\tBru};
\addplot[dot] table[x=yr,y=b] {\tBru};
\addplot[sm] table[x=yr,y=a] {\sBru};
\addplot[sm] table[x=yr,y=b] {\sBru};
\end{axis}
\begin{axis}[rightax, at={(56.5pt,-1114pt)}, height=152pt, ymin=4, ymax=28, ytick={4,12,20,28}]
\addplot[draw=none] coordinates {(1800,10)};
\end{axis}
\end{tikzpicture}
\end{document}
